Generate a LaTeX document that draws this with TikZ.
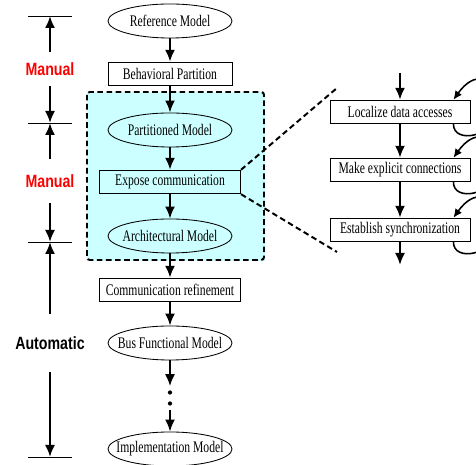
\documentclass[tikz,border=0pt]{standalone}
\usepackage{fontspec}
\setmainfont{Liberation Serif}[FakeStretch=0.72]
\newfontfamily\phasefont{Liberation Sans}[FakeStretch=0.8]
\usetikzlibrary{shapes.geometric, arrows.meta}

\definecolor{regioncyan}{HTML}{CCFFFF}

\begin{document}
\begin{tikzpicture}[
    x=0.025cm, y=-0.025cm,
    >={Latex[length=0.3cm, width=0.25cm]},
    model/.style={
        draw=black, ellipse, line width=0.6pt, inner xsep=-0.3cm, inner ysep=0pt,
        minimum width=3.1cm, minimum height=0.85cm,
        font=\fontsize{11.5}{13}\selectfont
    },
    stepbox/.style={
        draw=black, rectangle, line width=0.6pt, inner sep=0pt,
        minimum height=0.59cm, font=\fontsize{11.5}{13}\selectfont
    },
    flow/.style={->, line width=1.4pt},
    selfloop/.style={-{Latex[length=0.22cm, width=0.2cm]}, line width=1.1pt},
    phase/.style={font=\phasefont\bfseries\fontsize{12.6}{14}\selectfont, inner sep=0pt},
    tick/.style={line width=0.6pt}
]
\useasboundingbox (0,0) rectangle (476,465);

% Refinement region (background)
\draw[regioncyan, fill=regioncyan] (87,92) rectangle (264,260);
\draw[line width=1.4pt, dash pattern=on 4pt off 2.5pt, rounded corners=2pt] (87,92) rectangle (264,260);

% -------------------------
% Main flow
% -------------------------
\node[model] (ref) at (170,21) {Reference Model};
\node[stepbox, minimum width=3.1cm] (behav) at (170,74) {Behavioral Partition};
\node[model] (part) at (170,130) {Partitioned Model};
\node[stepbox, minimum width=3.53cm] (expose) at (170,182) {Expose communication};
\node[model] (arch) at (170,236) {Architectural Model};
\node[stepbox, minimum width=3.53cm] (commref) at (170,290) {Communication refinement};
\node[model] (bus) at (170,343) {Bus Functional Model};
\node[minimum height=0.575cm, minimum width=0.2cm, inner sep=0pt] (dots) at (170,398) {};
\node[model] (impl) at (170,449) {Implementation Model};

\fill (dots.center) ++(0,-5.5) circle (1.5pt);
\fill (dots.center) ++(0,5.5) circle (1.5pt);

\draw[flow] (ref) -- (behav);
\draw[flow] (behav) -- (part);
\draw[flow] (part) -- (expose);
\draw[flow] (expose) -- (arch);
\draw[flow] (arch) -- (commref);
\draw[flow] (commref) -- (bus);
\draw[flow] (bus) -- (dots);
\draw[flow] (dots) -- (impl);

% -------------------------
% Expose communication, in detail
% -------------------------
\node[stepbox, minimum width=3.5cm] (loc) at (400,112) {Localize data accesses};
\node[stepbox, minimum width=3.5cm] (conn) at (400,170) {Make explicit connections};
\node[stepbox, minimum width=3.5cm] (sync) at (400,230) {Establish synchronization};

\coordinate (detin) at (400,73);
\coordinate (detout) at (400,265);
\coordinate (zoomtop) at (337,88);
\coordinate (zoombot) at (337,252);

\draw[flow] (detin) -- (loc);
\draw[flow] (loc) -- (conn);
\draw[flow] (conn) -- (sync);
\draw[flow] (sync) -- (detout);

\foreach \b in {loc, conn, sync} {
    \draw[selfloop] ([shift={(-17,0)}]\b.south east)
        .. controls +(0,20) and +(0,25) .. ([shift={(24,0)}]\b.east)
        .. controls +(0,-40) and +(20,-28) .. ([shift={(-17,0)}]\b.north east);
}

\draw[line width=1.4pt, dash pattern=on 4pt off 2.5pt] (expose.north east) -- (zoomtop);
\draw[line width=1.4pt, dash pattern=on 4pt off 2.5pt] (expose.south east) -- (zoombot);

% -------------------------
% Phases (left)
% -------------------------
\coordinate (t1) at (50,16);
\coordinate (t2) at (50,123);
\coordinate (t3) at (50,242);
\coordinate (t4) at (50,457);

\foreach \t in {t1, t2, t3, t4}
    \draw[tick] ([shift={(-22,0)}]\t) -- ([shift={(22,0)}]\t);

\node[phase, text=red, minimum height=0.825cm] (man1) at (50,69) {Manual};
\node[phase, text=red, minimum height=1.075cm] (man2) at (50,181) {Manual};
\node[phase, minimum height=1.425cm] (auto) at (50,343) {Automatic};

\draw[flow] (man1) -- (t1);
\draw[flow] (man1) -- (t2);
\draw[flow] (man2) -- (t2);
\draw[flow] (man2) -- (t3);
\draw[flow] (auto) -- (t3);
\draw[flow] (auto) -- (t4);

\end{tikzpicture}
\end{document}
